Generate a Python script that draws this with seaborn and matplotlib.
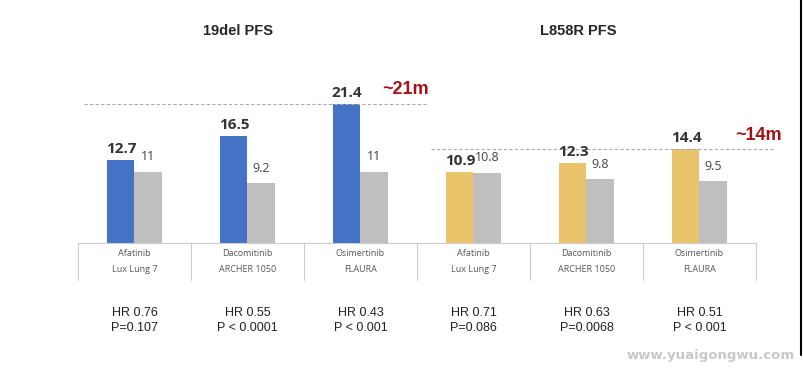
import pandas as pd
import matplotlib.pyplot as plt
import matplotlib.transforms as mtransforms
import seaborn as sns

# data
drugs = ['Afatinib', 'Dacomitinib', 'Osimertinib', 'Afatinib', 'Dacomitinib', 'Osimertinib']
trials = ['Lux Lung 7', 'ARCHER 1050', 'FLAURA', 'Lux Lung 7', 'ARCHER 1050', 'FLAURA']
tki_pfs = [12.7, 16.5, 21.4, 10.9, 12.3, 14.4]
control_pfs = [11, 9.2, 11, 10.8, 9.8, 9.5]
hr_text = ['HR 0.76', 'HR 0.55', 'HR 0.43', 'HR 0.71', 'HR 0.63', 'HR 0.51']
p_text = ['P=0.107', 'P < 0.0001', 'P < 0.001', 'P=0.086', 'P=0.0068', 'P < 0.001']
panel_titles = ['19del PFS', 'L858R PFS']
ref_lines = [21.4, 14.4]
ref_labels = ['~21m', '~14m']

slots = [f'{d}\n{t}\n{i}' for i, (d, t) in enumerate(zip(drugs, trials))]
df = pd.DataFrame({
    'slot': slots * 2,
    'arm': ['TKI'] * 6 + ['Control'] * 6,
    'PFS': tki_pfs + control_pfs,
})

blue, gold, grey = '#4472C4', '#E9C46A', '#BFBFBF'
dark_red = '#A50F15'
arial = ['Liberation Sans', 'DejaVu Sans']

sns.set_style('white')
plt.rcParams['font.family'] = ['Open Sans', 'DejaVu Sans']

fig = plt.figure(figsize=(8.04, 3.72), dpi=100)
ax = fig.add_axes([78 / 804, 129 / 372, 678 / 804, 234 / 372])

sns.barplot(data=df, x='slot', y='PFS', hue='arm', order=slots,
            hue_order=['TKI', 'Control'], palette=[blue, grey],
            width=0.48, saturation=1, legend=False, ax=ax)

# second panel's TKI bars are gold
for i, bar in enumerate(ax.containers[0]):
    bar.set_facecolor(blue if i < 3 else gold)
    bar.set_edgecolor('none')
for bar in ax.containers[1]:
    bar.set_edgecolor('none')

ax.bar_label(ax.containers[0], labels=[f'{v:g}' for v in tki_pfs], padding=3,
             fontsize=11, fontweight='bold', color='#333333')
ax.bar_label(ax.containers[1], labels=[f'{v:g}' for v in control_pfs], padding=6,
             fontsize=9, color='#444444')

ax.set_ylim(0, 36)
ax.set_xlim(-0.5, 5.5)
ax.set_xticks([])
ax.set_yticks([])
ax.set_xlabel('')
ax.set_ylabel('')
for side in ['top', 'right', 'left']:
    ax.spines[side].set_visible(False)
ax.spines['bottom'].set_color('#cccccc')
ax.spines['bottom'].set_linewidth(0.8)

trans = mtransforms.blended_transform_factory(ax.transData, ax.transAxes)

# cell separators, category labels and HR / P values
for x in [i - 0.5 for i in range(7)]:
    ax.plot([x, x], [0, -0.16], transform=trans, color='#cccccc', lw=0.8, clip_on=False)
for i in range(6):
    ax.text(i, -0.047, drugs[i], transform=trans, ha='center', va='center',
            fontsize=6.5, color='#555555')
    ax.text(i, -0.115, trials[i], transform=trans, ha='center', va='center',
            fontsize=6.5, color='#555555')
    ax.text(i, -0.30, hr_text[i], transform=trans, ha='center', va='center',
            fontsize=9, color='#222222', family=arial)
    ax.text(i, -0.365, p_text[i], transform=trans, ha='center', va='center',
            fontsize=9, color='#222222', family=arial)

# dashed reference lines with labels
ax.hlines(ref_lines[0], -0.45, 2.6, colors='#aaaaaa', linestyles=(0, (3, 2)), lw=0.8)
ax.hlines(ref_lines[1], 2.62, 5.67, colors='#aaaaaa', linestyles=(0, (3, 2)), lw=0.8,
          clip_on=False)
ax.text(2.19, ref_lines[0] + 0.9, ref_labels[0], ha='left', va='bottom',
        fontsize=13, fontweight='bold', color=dark_red, family=arial)
ax.text(5.32, ref_lines[1] + 0.9, ref_labels[1], ha='left', va='bottom',
        fontsize=13, fontweight='bold', color=dark_red, family=arial, clip_on=False)

# panel titles
fig.text(238 / 804, 1 - 31 / 372, panel_titles[0], ha='center', va='center',
         fontsize=10.5, fontweight='bold', family=arial)
fig.text(578 / 804, 1 - 31 / 372, panel_titles[1], ha='center', va='center',
         fontsize=10.5, fontweight='bold', family=arial)

# watermark and right border seen in the source image
fig.text(795 / 804, 1 - 356 / 372, 'www.yuaigongwu.com', ha='right', va='center',
         fontsize=9.5, fontweight='bold', color='#c8c8c8', family=['DejaVu Sans'])
fig.add_artist(plt.Line2D([801.5 / 804, 801.5 / 804], [1, 1 - 355 / 372],
                          transform=fig.transFigure, color='black', lw=1.5))

fig.savefig('out.png', dpi=100, facecolor='white')
